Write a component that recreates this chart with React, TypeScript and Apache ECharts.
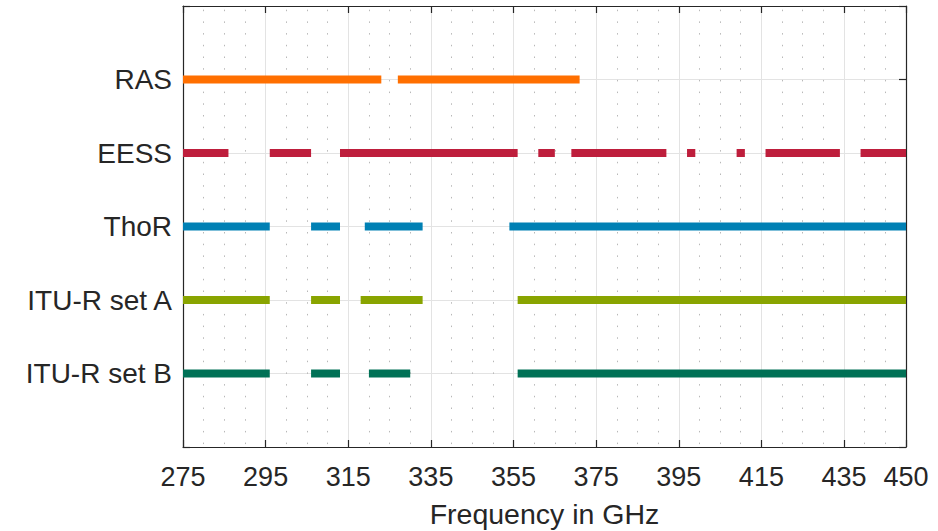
import React, { useEffect, useRef } from 'react';
import * as echarts from 'echarts';

// ---- data ----
const X_MIN = 275;
const X_MAX = 450;
const X_TICK_STEP = 20;
const X_MINOR_SPLIT = 4;

// y levels 1..5 (bottom to top)
const CATEGORIES = ['ITU-R set B', 'ITU-R set A', 'ThoR', 'EESS', 'RAS'];

const RAS_BANDS = [[275, 323], [327, 371]];
const EESS_BANDS = [
  [275, 286], [296, 306], [313, 356], [361, 365], [369, 392],
  [397, 399], [409, 411], [416, 434], [439, 450],
];
const THOR_BANDS = [[275, 296], [306, 313], [319, 333], [354, 450]];
const SET_A_BANDS = [[275, 296], [306, 313], [318, 333], [356, 450]];
const SET_B_BANDS = [[275, 296], [306, 313], [320, 330], [356, 450]];

const ROWS = [
  { name: 'RAS', bands: RAS_BANDS },
  { name: 'EESS', bands: EESS_BANDS },
  { name: 'ThoR', bands: THOR_BANDS },
  { name: 'ITU-R set A', bands: SET_A_BANDS },
  { name: 'ITU-R set B', bands: SET_B_BANDS },
];

// ---- styles ----
const COLORS: Record<string, string> = {
  'RAS': '#FF6F00',
  'EESS': '#BE1E3C',
  'ThoR': '#0080B4',
  'ITU-R set A': '#89A400',
  'ITU-R set B': '#007156',
};

export default function App() {
  const ref = useRef<HTMLDivElement>(null);

  useEffect(() => {
    document.body.style.margin = '0';
    const chart = echarts.init(ref.current!, null, { renderer: 'svg' });
    const font = "'Liberation Sans', Arial, Helvetica, sans-serif";
    const axisColor = '#262626';
    const gridColor = '#e3e3e3';
    const BAR_H = 8;

    const xBase = {
      type: 'value',
      min: X_MIN,
      max: X_MAX,
      interval: X_TICK_STEP,
      gridIndex: 0,
      axisLine: { show: true, onZero: false, lineStyle: { color: axisColor, width: 1.2 } },
      axisTick: { show: true, inside: true, length: 7, lineStyle: { color: axisColor, width: 1.2 } },
      minorTick: { show: false, splitNumber: X_MINOR_SPLIT },
    };

    const yBase = {
      type: 'value',
      min: 0,
      max: CATEGORIES.length + 1,
      interval: 1,
      gridIndex: 0,
      axisLine: { show: true, onZero: false, lineStyle: { color: axisColor, width: 1.2 } },
      axisTick: { show: true, inside: true, length: 7, lineStyle: { color: axisColor, width: 1.2 } },
    };

    const series = ROWS.map((row) => {
      const level = CATEGORIES.indexOf(row.name) + 1;
      return {
        type: 'custom',
        name: row.name,
        xAxisIndex: 0,
        yAxisIndex: 0,
        z: 5,
        encode: { x: [0, 1], y: 2 },
        data: row.bands.map((b) => [b[0], b[1], level]),
        renderItem: (params: any, api: any) => {
          const s = api.coord([api.value(0), api.value(2)]);
          const e = api.coord([api.value(1), api.value(2)]);
          return {
            type: 'rect',
            shape: { x: s[0], y: s[1] - BAR_H / 2, width: e[0] - s[0], height: BAR_H },
            style: { fill: COLORS[row.name] },
          };
        },
      };
    });

    const option: any = {
      animation: false,
      backgroundColor: '#ffffff',
      textStyle: { fontFamily: font },
      grid: {
        left: 183,
        right: 32,
        top: 6,
        bottom: 84,
        containLabel: false,
        outerBoundsMode: 'none',
      },
      xAxis: [
        {
          ...xBase,
          position: 'bottom',
          name: 'Frequency in GHz',
          nameLocation: 'middle',
          nameGap: 52,
          nameTextStyle: { color: axisColor, fontSize: 28.5, fontFamily: font },
          axisLabel: {
            show: true,
            color: axisColor,
            fontSize: 27,
            fontFamily: font,
            margin: 16,
            showMinLabel: true,
            showMaxLabel: true,
            hideOverlap: false,
          },
          splitLine: { show: true, lineStyle: { color: gridColor, width: 1 } },
          minorSplitLine: {
            show: true,
            lineStyle: { color: '#b8b8b8', width: 1, type: [1.5, 10.2], dashOffset: 7.7 },
          },
        },
        {
          ...xBase,
          position: 'top',
          axisLabel: { show: false },
          splitLine: { show: false },
          minorSplitLine: { show: false },
        },
      ],
      yAxis: [
        {
          ...yBase,
          position: 'left',
          axisLabel: {
            show: true,
            color: axisColor,
            fontSize: 28,
            fontFamily: font,
            margin: 11,
            formatter: (v: number) => (v >= 1 && v <= CATEGORIES.length ? CATEGORIES[v - 1] : ''),
          },
          splitLine: { show: true, lineStyle: { color: gridColor, width: 1 } },
        },
        {
          ...yBase,
          position: 'right',
          axisLabel: { show: false },
          splitLine: { show: false },
        },
      ],
      series,
    };

    chart.setOption(option);
    return () => chart.dispose();
  }, []);

  return (
    <div
      ref={ref}
      style={{ position: 'fixed', left: 0, top: 0, width: 938, height: 531 }}
    />
  );
}
